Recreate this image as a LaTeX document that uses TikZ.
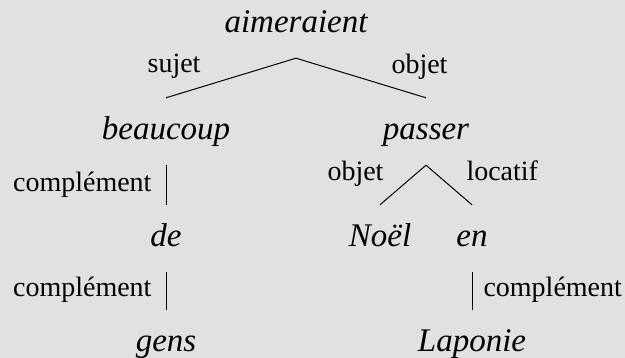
\documentclass[tikz,border=0pt]{standalone}
\usepackage{fontspec}
\setmainfont{Liberation Serif}
\tikzset{
  word/.style={font=\fontsize{33}{38}\selectfont\itshape, inner sep=0pt, text height=42pt, text depth=25pt, anchor=base},
  rel/.style={font=\fontsize{28}{34}\selectfont, inner sep=0pt},
  dep/.style={line width=1pt}
}
\begin{document}
\begin{tikzpicture}[x=1pt, y=1pt]
\definecolor{bg}{HTML}{E1E1E1}
\useasboundingbox (0,0) rectangle (625,-358);
\fill[bg] (0,0) rectangle (625,-358);
\node[word] (aimeraient) at (296,-33) {aimeraient};
\node[word] (beaucoup) at (166,-140) {beaucoup};
\node[word] (passer) at (426,-140) {passer};
\node[word] (de) at (166,-247) {de};
\node[word] (noel) at (380,-247) {Noël};
\node[word] (en) at (472,-247) {en};
\node[word] (gens) at (166,-352) {gens};
\node[word] (laponie) at (472,-352) {Laponie};
\draw[dep] (aimeraient.south) -- node[rel, anchor=base east, xshift=-30pt, yshift=5pt] {sujet} (beaucoup.north);
\draw[dep] (aimeraient.south) -- node[rel, anchor=base west, xshift=30pt, yshift=4pt] {objet} (passer.north);
\draw[dep] (passer.south) -- node[rel, anchor=base east, xshift=-19pt, yshift=4pt] {objet} (noel.north);
\draw[dep] (passer.south) -- node[rel, anchor=base west, xshift=17pt, yshift=4pt] {locatif} (en.north);
\draw[dep] (beaucoup.south) -- node[rel, anchor=base east, xshift=-14pt, yshift=-7pt] {complément} (de.north);
\draw[dep] (de.south) -- node[rel, anchor=base east, xshift=-14pt, yshift=-6pt] {complément} (gens.north);
\draw[dep] (en.south) -- node[rel, anchor=base west, xshift=11pt, yshift=-6pt] {complément} (laponie.north);
\end{tikzpicture}
\end{document}
